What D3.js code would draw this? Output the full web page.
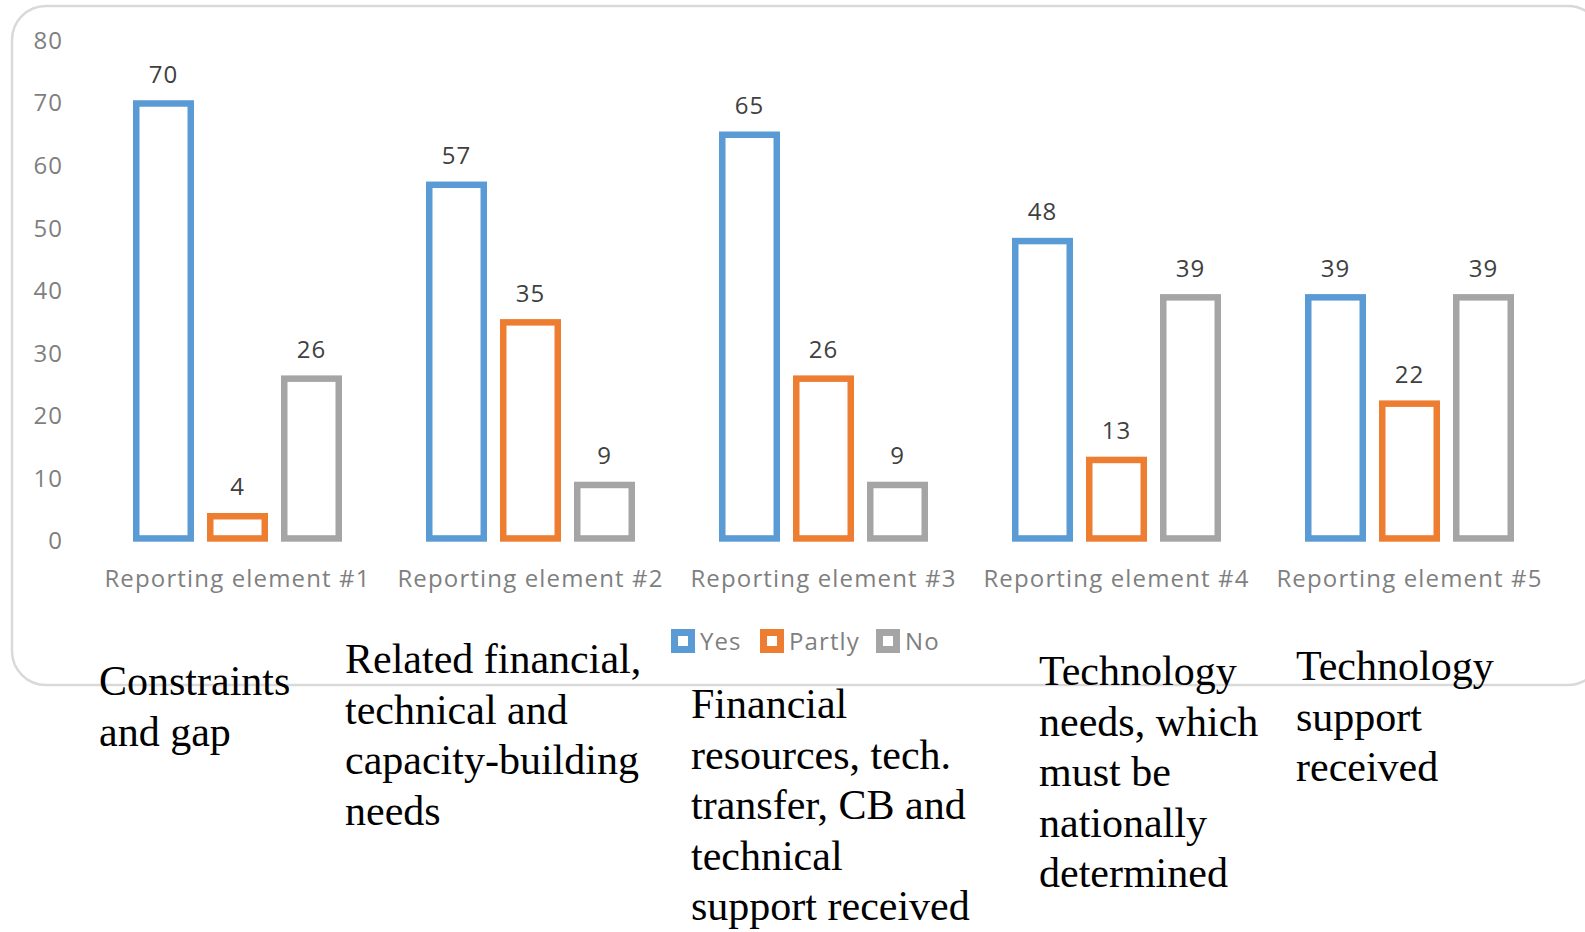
<!DOCTYPE html>
<html>
<head>
<meta charset="utf-8">
<script src="https://cdn.jsdelivr.net/npm/d3@7"></script>
<style>
  html, body { margin: 0; padding: 0; background: #ffffff; overflow: hidden; }
  svg { display: block; }
</style>
</head>
<body>
<svg id="chart" width="1585" height="932"></svg>
<script>
// ---- data ----
const categories = ["Reporting element #1", "Reporting element #2", "Reporting element #3", "Reporting element #4", "Reporting element #5"];
const seriesNames = ["Yes", "Partly", "No"];
const yesValues = [70, 57, 65, 48, 39];
const partlyValues = [4, 35, 26, 13, 22];
const noValues = [26, 9, 9, 39, 39];
const yTickValues = [0, 10, 20, 30, 40, 50, 60, 70, 80];
const noteLines = [
  ["Constraints", "and gap"],
  ["Related financial,", "technical and", "capacity-building", "needs"],
  ["Financial", "resources, tech.", "transfer, CB and", "technical", "support received"],
  ["Technology", "needs, which", "must be", "nationally", "determined"],
  ["Technology", "support", "received"]
];

// ---- layout / style ----
const colors = { "Yes": "#5B9BD5", "Partly": "#ED7D31", "No": "#A5A5A5" };
const noteAnchors = [[99, 695], [345, 673], [691, 718], [1039, 685], [1296, 680]];
const sansFont = "'Open Sans', sans-serif";
const serifFont = "'Liberation Serif', 'Times New Roman', serif";
const barStroke = 6.5;
const baseExtra = 3.7;

const svg = d3.select("#chart");

// outer rounded frame
svg.append("rect")
  .attr("x", 12).attr("y", 6)
  .attr("width", 1590).attr("height", 679)
  .attr("rx", 34).attr("ry", 34)
  .attr("fill", "none")
  .attr("stroke", "#D9D9D9")
  .attr("stroke-width", 2.5);

const seriesValues = { "Yes": yesValues, "Partly": partlyValues, "No": noValues };
const rows = categories.map((c, i) => ({ category: c, values: seriesNames.map(s => ({ series: s, value: seriesValues[s][i] })) }));

const x0 = d3.scaleBand().domain(categories).range([91, 1556]).padding(0);
const x1 = d3.scaleBand().domain(seriesNames).range([0, x0.bandwidth()])
  .paddingInner(13 / 74).paddingOuter(0.5676);
const y = d3.scaleLinear().domain([0, 80]).range([538, 37.7]);

// y axis (labels only)
const yAxis = d3.axisLeft(y).tickValues(yTickValues).tickSize(0).tickPadding(0);
const gy = svg.append("g").attr("transform", "translate(63,2.3)").call(yAxis);
gy.select(".domain").remove();
gy.selectAll("text")
  .attr("fill", "#7F7F7F")
  .style("font-family", sansFont)
  .style("font-size", "24px")
  .style("letter-spacing", "1px")
  .attr("dy", "0.35em");

// x axis (labels only)
const xAxis = d3.axisBottom(x0).tickSize(0).tickPadding(0);
const gx = svg.append("g").attr("transform", "translate(0,587)").call(xAxis);
gx.select(".domain").remove();
gx.selectAll("text")
  .attr("fill", "#7F7F7F")
  .attr("dy", 0)
  .attr("y", 0)
  .style("font-family", sansFont)
  .style("font-size", "24px")
  .style("letter-spacing", "1.15px");

// bars
const groups = svg.append("g").selectAll("g")
  .data(rows).join("g")
  .attr("transform", d => `translate(${x0(d.category)},0)`);

groups.selectAll("rect")
  .data(d => d.values).join("rect")
  .attr("x", d => x1(d.series) + barStroke / 2)
  .attr("y", d => y(d.value) + barStroke / 2)
  .attr("width", x1.bandwidth() - barStroke)
  .attr("height", d => Math.max(0, y(0) + baseExtra - y(d.value) - barStroke))
  .attr("fill", "#ffffff")
  .attr("stroke", d => colors[d.series])
  .attr("stroke-width", barStroke);

groups.selectAll("text.val")
  .data(d => d.values).join("text")
  .attr("class", "val")
  .attr("x", d => x1(d.series) + x1.bandwidth() / 2)
  .attr("y", d => y(d.value) - 17.5)
  .attr("text-anchor", "middle")
  .attr("fill", "#404040")
  .style("font-family", sansFont)
  .style("font-size", "24px")
  .style("letter-spacing", "1px")
  .text(d => d.value);

// legend
const legendX = [671, 760, 876];
const legend = svg.append("g").selectAll("g")
  .data(seriesNames).join("g")
  .attr("transform", (d, i) => `translate(${legendX[i]},629)`);
legend.append("rect")
  .attr("x", 3.5).attr("y", 3.5)
  .attr("width", 17).attr("height", 17)
  .attr("fill", "#ffffff")
  .attr("stroke", d => colors[d])
  .attr("stroke-width", 7);
legend.append("text")
  .attr("x", 29).attr("y", 21)
  .attr("fill", "#7F7F7F")
  .style("font-family", sansFont)
  .style("font-size", "24px")
  .style("letter-spacing", "1.1px")
  .text(d => d);

// notes below the chart
const notes = svg.append("g").selectAll("text")
  .data(noteLines).join("text")
  .attr("x", (d, i) => noteAnchors[i][0])
  .attr("y", (d, i) => noteAnchors[i][1])
  .attr("fill", "#000000")
  .style("font-family", serifFont)
  .style("font-size", "42px");
notes.each(function(lines, i) {
  d3.select(this).selectAll("tspan")
    .data(lines).join("tspan")
    .attr("x", noteAnchors[i][0])
    .attr("dy", (d, j) => j === 0 ? 0 : 50.5)
    .text(d => d);
});
</script>
</body>
</html>
